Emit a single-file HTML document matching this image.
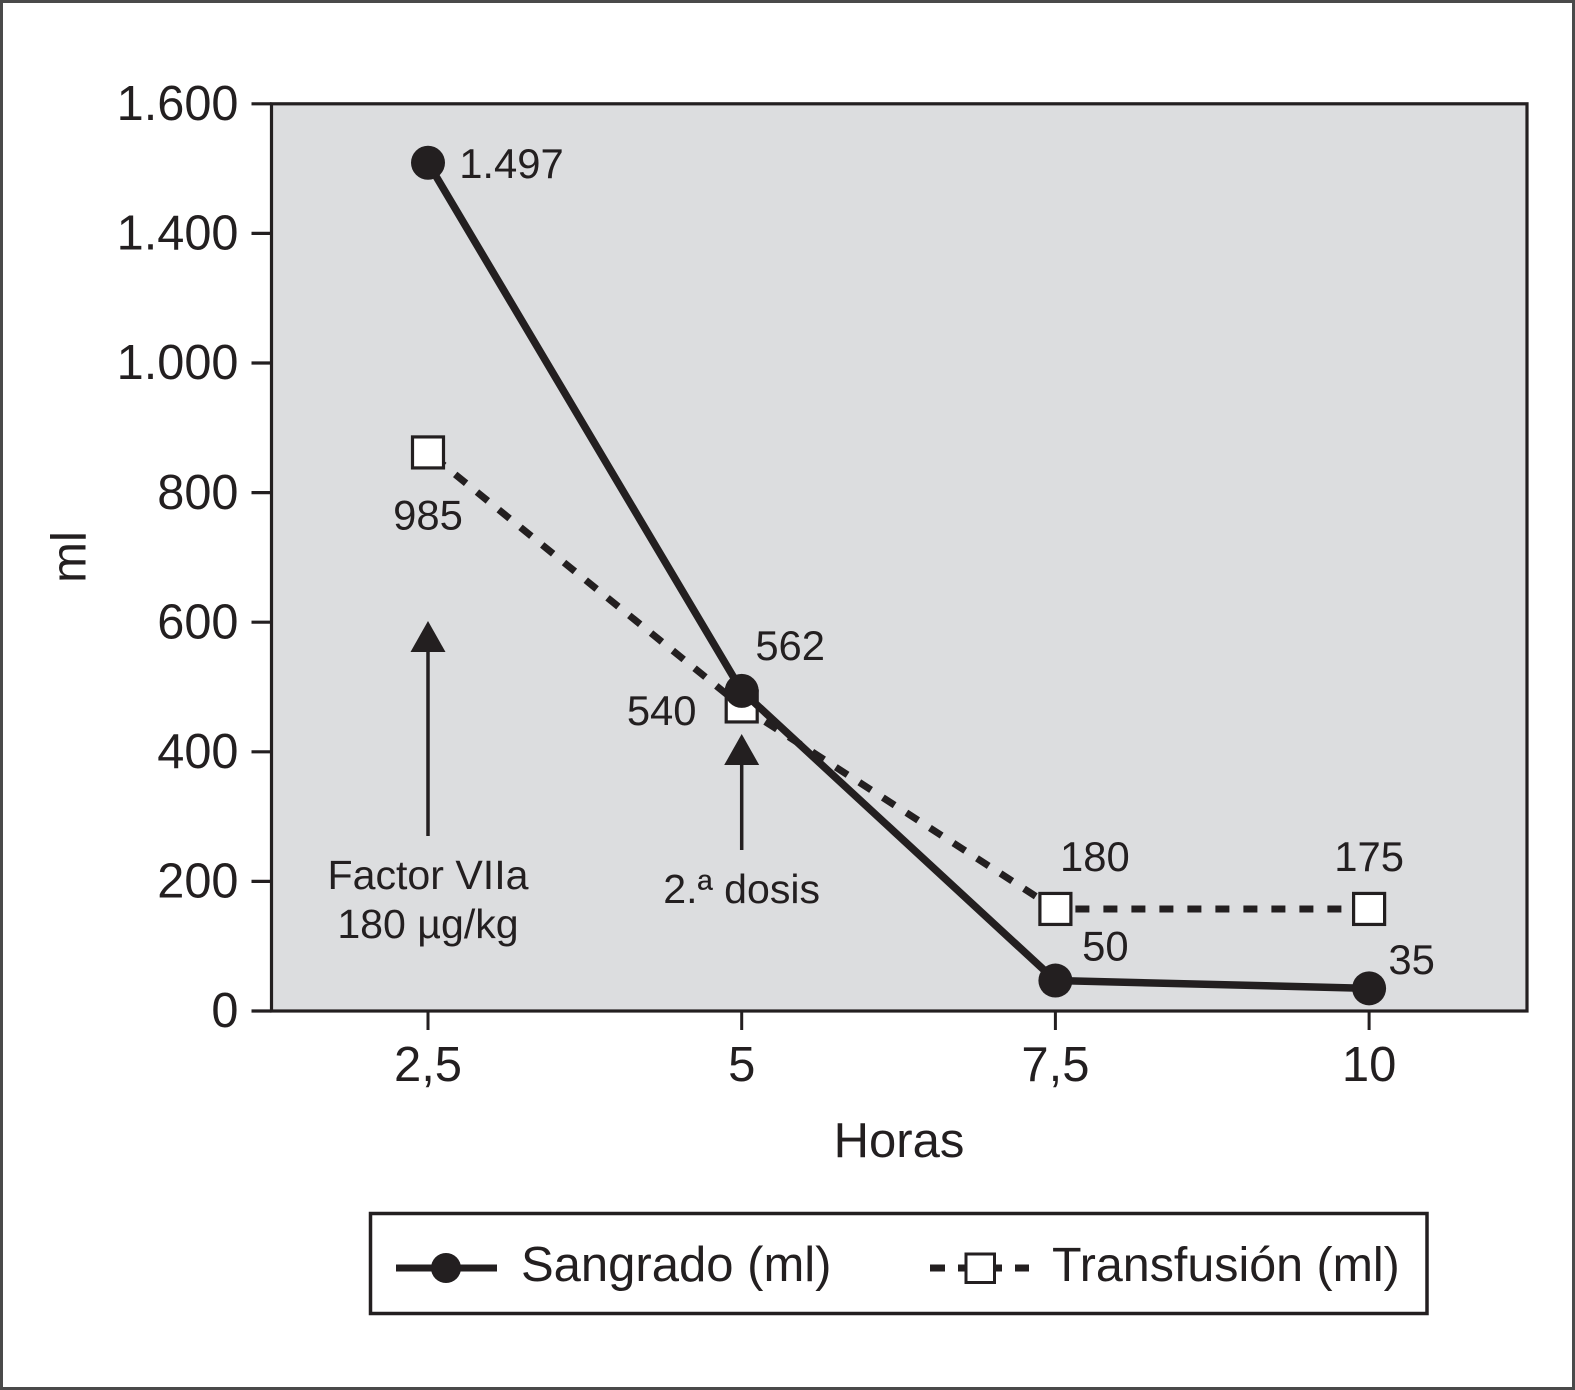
<!DOCTYPE html>
<html lang="es">
<head>
<meta charset="utf-8">
<title>Sangrado y transfusión</title>
<style>
  html, body { margin: 0; padding: 0; background: #fff; }
  svg { display: block; }
  text { font-family: "Liberation Sans", sans-serif; fill: #231f20; }
</style>
</head>
<body>
<svg id="chart" xmlns="http://www.w3.org/2000/svg" width="1575" height="1390" viewBox="0 0 1575 1390">
  <rect x="0" y="0" width="1575" height="1390" fill="#fff"/>
  <rect x="1.5" y="1.5" width="1572" height="1387" fill="none" stroke="#4a4a4a" stroke-width="3"/>
  <rect x="271.5" y="103.8" width="1255.5" height="907.2" fill="#dcdddf" stroke="#231f20" stroke-width="3.2"/>
  <g id="y-axis"></g>
  <g id="x-axis"></g>
  <text transform="translate(85.5 557) rotate(-90)" text-anchor="middle" font-size="49">ml</text>
  <text x="899" y="1157" text-anchor="middle" font-size="49">Horas</text>
  <g id="annotations"></g>
  <g id="series-transfusion"></g>
  <g id="series-sangrado"></g>
  <g id="value-labels"></g>

  <g>
    <rect x="370.5" y="1213.5" width="1056.5" height="100" fill="#fff" stroke="#231f20" stroke-width="3.5"/>
    <g>
      <line x1="396" y1="1268" x2="497" y2="1268" stroke="#231f20" stroke-width="7"/>
      <circle cx="446" cy="1268" r="15" fill="#231f20"/>
      <text x="521" y="1281" font-size="49">Sangrado (ml)</text>
    </g>
    <g>
      <line x1="930" y1="1268" x2="945" y2="1268" stroke="#231f20" stroke-width="7"/>
      <line x1="958" y1="1268" x2="1002" y2="1268" stroke="#231f20" stroke-width="7"/>
      <line x1="1015" y1="1268" x2="1029" y2="1268" stroke="#231f20" stroke-width="7"/>
      <rect x="966" y="1254" width="28.5" height="28.5" fill="#fff" stroke="#231f20" stroke-width="3"/>
      <text x="1052" y="1281" font-size="48.4">Transfusión (ml)</text>
    </g>
  </g>
</svg>
<script>
// Chart data
const categories = ['2,5', '5', '7,5', '10'];
const yTickValues = [0, 200, 400, 600, 800, 1000, 1400, 1600];
const yTickLabels = ['0', '200', '400', '600', '800', '1.000', '1.400', '1.600'];
const sangradoValues = [1509, 494, 47, 35];
const transfusionValues = [862, 470, 157.5, 157.5];
const sangradoLabels = ['1.497', '562', '50', '35'];
const transfusionLabels = ['985', '540', '180', '175'];

// Axis geometry
const SVG_NS = 'http://www.w3.org/2000/svg';
const plotTop = 103.8;
const plotBottom = 1011;
const plotLeft = 271.5;
const firstCategoryX = 428;
const categoryStep = 313.7;
const ink = '#231f20';

function xScale(index) {
  return firstCategoryX + index * categoryStep;
}

// The printed y axis has equally spaced ticks with uneven values, so it is piecewise linear.
function yScale(value) {
  const step = (plotBottom - plotTop) / (yTickValues.length - 1);
  let i = 0;
  while (i < yTickValues.length - 2 && value > yTickValues[i + 1]) i++;
  const t = (value - yTickValues[i]) / (yTickValues[i + 1] - yTickValues[i]);
  return plotBottom - (i + t) * step;
}

function make(tag, parent, attrs) {
  const el = document.createElementNS(SVG_NS, tag);
  for (const key in attrs) el.setAttribute(key, attrs[key]);
  parent.appendChild(el);
  return el;
}

// Y axis
const yAxis = document.getElementById('y-axis');
yTickValues.forEach(function (value, i) {
  const y = yScale(value);
  const tick = make('line', yAxis, { x1: 251.5, x2: plotLeft, y1: y, y2: y, stroke: ink, 'stroke-width': 3.2 });
  
  
  const label = make('text', yAxis, { x: 238.5, y: y + 16.2, 'text-anchor': 'end', 'font-size': 48.7 });
  
  
  label.textContent = yTickLabels[i];
});

// X axis
const xAxis = document.getElementById('x-axis');
categories.forEach(function (category, i) {
  const x = xScale(i);
  const tick = make('line', xAxis, { x1: x, x2: x, y1: plotBottom, y2: 1030, stroke: ink, 'stroke-width': 3 });
  
  
  const label = make('text', xAxis, { x: x, y: 1081, 'text-anchor': 'middle', 'font-size': 49 });
  
  
  label.textContent = category;
});

// Dose annotations
const annotations = document.getElementById('annotations');
function addArrow(index, tipY, endY) {
  const x = xScale(index);
  const shaft = make('line', annotations, { x1: x, x2: x, y1: tipY + 20, y2: endY, stroke: ink, 'stroke-width': 3.5 });
  
  
  const head = make('polygon', annotations, {
    points: x + ',' + (tipY - 1) + ' ' + (x + 17.5) + ',' + (tipY + 30) + ' ' + (x - 17.5) + ',' + (tipY + 30),
    fill: ink
  });
  
  
}
function addNote(index, y, content) {
  const note = make('text', annotations, { x: xScale(index), y: y, 'text-anchor': 'middle', 'font-size': 41.1 });
  
  
  note.textContent = content;
}
addArrow(0, 622, 836);
addArrow(1, 735, 850);
addNote(0, 889, 'Factor VIIa');
addNote(0, 938, '180 µg/kg');
addNote(1, 903, '2.ª dosis');

// Transfusion series: dashed segments with square markers
const transfusionGroup = document.getElementById('series-transfusion');
const segmentDashOffsets = [21, 0, 8];
for (let i = 0; i < transfusionValues.length - 1; i++) {
  const seg = make('line', transfusionGroup, {
    x1: xScale(i), y1: yScale(transfusionValues[i]),
    x2: xScale(i + 1), y2: yScale(transfusionValues[i + 1]),
    stroke: ink, 'stroke-width': 7, 'stroke-dasharray': '14 14',
    'stroke-dashoffset': segmentDashOffsets[i]
  });
  
  
}
transfusionValues.forEach(function (value, i) {
  const mark = make('rect', transfusionGroup, {
    x: xScale(i) - 15.5, y: yScale(value) - 15.5, width: 31, height: 31,
    fill: '#fff', stroke: ink, 'stroke-width': 3.2
  });
  
  
});

// Bleeding series: solid line with round markers
const sangradoGroup = document.getElementById('series-sangrado');
const sangradoLine = make('polyline', sangradoGroup, {
  points: sangradoValues.map(function (value, i) { return xScale(i) + ',' + yScale(value); }).join(' '),
  fill: 'none', stroke: ink, 'stroke-width': 7.5, 'stroke-linejoin': 'round'
});


sangradoValues.forEach(function (value, i) {
  const mark = make('circle', sangradoGroup, { cx: xScale(i), cy: yScale(value), r: 17, fill: ink });
  
  
});

// Printed values, placed relative to their point
const valueLabels = document.getElementById('value-labels');
function addValueLabel(text, index, value, dx, dy, name) {
  const label = make('text', valueLabels, {
    x: xScale(index) + dx, y: yScale(value) + dy, 'text-anchor': 'middle', 'font-size': 41.8
  });
  
  
  label.textContent = text;
}
const sangradoOffsetX = [83.5, 48.5, 50, 42.5];
const sangradoOffsetY = [15, -31, -20, -14.5];
const transfusionOffsetX = [0, -80, 39.5, 0];
const transfusionOffsetY = [77, 18.5, -38, -38];
sangradoLabels.forEach(function (text, i) {
  addValueLabel(text, i, sangradoValues[i], sangradoOffsetX[i], sangradoOffsetY[i], 'bleeding-value-label');
});
transfusionLabels.forEach(function (text, i) {
  addValueLabel(text, i, transfusionValues[i], transfusionOffsetX[i], transfusionOffsetY[i], 'transfusion-value-label');
});
</script>
</body>
</html>
